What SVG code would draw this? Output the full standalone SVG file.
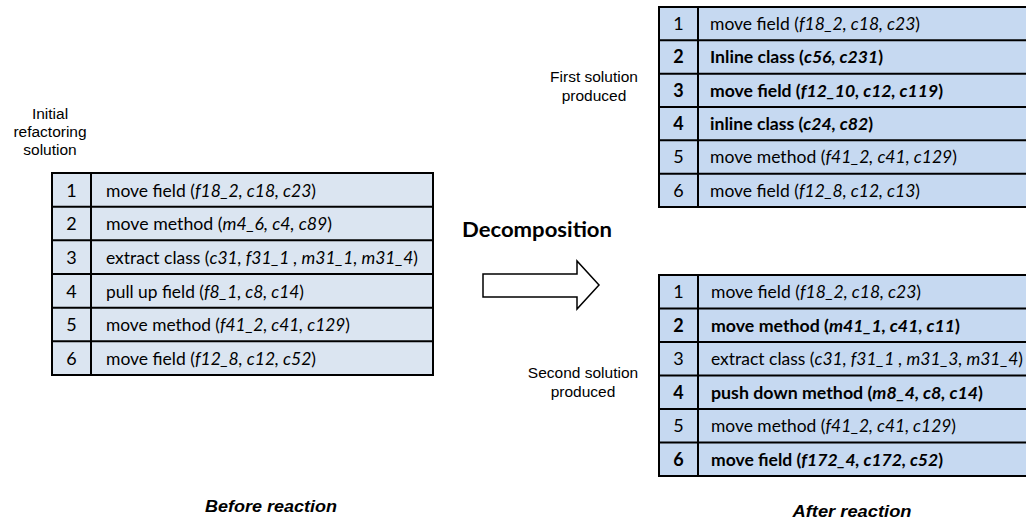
<svg xmlns="http://www.w3.org/2000/svg" width="1026" height="520" viewBox="0 0 1026 520">
<style>
.lbl{font-family:"Liberation Sans",Arial,sans-serif;font-size:15.5px;fill:#000;text-anchor:middle}
.cap{font-family:"Liberation Sans",Arial,sans-serif;font-size:17px;font-weight:bold;font-style:italic;fill:#000;text-anchor:middle}
.t{font-family:Lato,"Open Sans",sans-serif;font-size:17.5px;fill:#000}
.n{font-family:Lato,"Open Sans",sans-serif;font-size:18px;fill:#000;text-anchor:middle}
.b{font-weight:bold}
.i{font-style:italic}
.grid{stroke:#000;stroke-width:2;fill:none}
.fa{fill:#dbe5f1}
.fb{fill:#c6d9f1}
.dec{font-family:Lato,"Open Sans",sans-serif;font-size:20px;font-weight:bold;fill:#000;text-anchor:middle}
</style>

<g id="label-initial">
<text class="lbl" x="50" y="119">Initial</text>
<text class="lbl" x="50" y="137">refactoring</text>
<text class="lbl" x="50" y="155">solution</text>
</g>
<g id="label-first">
<text class="lbl" x="594" y="82">First solution</text>
<text class="lbl" x="594" y="101">produced</text>
</g>
<g id="label-second">
<text class="lbl" x="583" y="378">Second solution</text>
<text class="lbl" x="583" y="397">produced</text>
</g>
<g id="label-decomposition">
<text class="dec" x="537" y="237" textLength="150" lengthAdjust="spacingAndGlyphs">Decomposition</text>
</g>
<g id="label-before">
<text class="cap" x="271" y="512" textLength="132" lengthAdjust="spacingAndGlyphs">Before reaction</text>
</g>
<g id="label-after">
<text class="cap" x="852" y="517" textLength="119" lengthAdjust="spacingAndGlyphs">After reaction</text>
</g>

<g id="table-initial">
<rect class="fa" x="52" y="173" width="381" height="202"/>
<g class="grid">
<rect x="52" y="173" width="381" height="202"/>
<line x1="91" y1="173" x2="91" y2="375"/>
<line x1="52" y1="206.7" x2="433" y2="206.7"/>
<line x1="52" y1="240.3" x2="433" y2="240.3"/>
<line x1="52" y1="274" x2="433" y2="274"/>
<line x1="52" y1="307.7" x2="433" y2="307.7"/>
<line x1="52" y1="341.3" x2="433" y2="341.3"/>
</g>
<text class="n" x="71.5" y="196.5">1</text>
<text class="n" x="71.5" y="230.2">2</text>
<text class="n" x="71.5" y="263.8">3</text>
<text class="n" x="71.5" y="297.5">4</text>
<text class="n" x="71.5" y="331.2">5</text>
<text class="n" x="71.5" y="364.8">6</text>
<text class="t" x="106" y="196.5" textLength="210" lengthAdjust="spacingAndGlyphs">move field (<tspan class="i">f18_2, c18, c23</tspan>)</text>
<text class="t" x="106" y="230.2" textLength="226" lengthAdjust="spacingAndGlyphs">move method (<tspan class="i">m4_6, c4, c89</tspan>)</text>
<text class="t" x="106" y="263.8" textLength="312" lengthAdjust="spacingAndGlyphs">extract class (<tspan class="i">c31, f31_1 , m31_1, m31_4</tspan>)</text>
<text class="t" x="106" y="297.5" textLength="198" lengthAdjust="spacingAndGlyphs">pull up field (<tspan class="i">f8_1, c8, c14</tspan>)</text>
<text class="t" x="106" y="331.2" textLength="244" lengthAdjust="spacingAndGlyphs">move method (<tspan class="i">f41_2, c41, c129</tspan>)</text>
<text class="t" x="106" y="364.8" textLength="210" lengthAdjust="spacingAndGlyphs">move field (<tspan class="i">f12_8, c12, c52</tspan>)</text>
</g>

<g id="table-first">
<rect class="fb" x="659" y="7" width="380" height="200"/>
<g class="grid">
<rect x="659" y="7" width="380" height="200"/>
<line x1="698" y1="7" x2="698" y2="207"/>
<line x1="659" y1="40.3" x2="1039" y2="40.3"/>
<line x1="659" y1="73.7" x2="1039" y2="73.7"/>
<line x1="659" y1="107" x2="1039" y2="107"/>
<line x1="659" y1="140.3" x2="1039" y2="140.3"/>
<line x1="659" y1="173.7" x2="1039" y2="173.7"/>
</g>
<text class="n" x="678.5" y="30">1</text>
<text class="n b" x="678.5" y="63.3">2</text>
<text class="n b" x="678.5" y="96.7">3</text>
<text class="n b" x="678.5" y="130">4</text>
<text class="n" x="678.5" y="163.3">5</text>
<text class="n" x="678.5" y="196.7">6</text>
<text class="t" x="710" y="30" textLength="210" lengthAdjust="spacingAndGlyphs">move field (<tspan class="i">f18_2, c18, c23</tspan>)</text>
<text class="t b" x="710" y="63.3" textLength="173" lengthAdjust="spacingAndGlyphs">Inline class (<tspan class="i">c56, c231</tspan>)</text>
<text class="t b" x="710" y="96.7" textLength="233" lengthAdjust="spacingAndGlyphs">move field (<tspan class="i">f12_10, c12, c119</tspan>)</text>
<text class="t b" x="710" y="130" textLength="163" lengthAdjust="spacingAndGlyphs">inline class (<tspan class="i">c24, c82</tspan>)</text>
<text class="t" x="710" y="163.3" textLength="247" lengthAdjust="spacingAndGlyphs">move method (<tspan class="i">f41_2, c41, c129</tspan>)</text>
<text class="t" x="710" y="196.7" textLength="210" lengthAdjust="spacingAndGlyphs">move field (<tspan class="i">f12_8, c12, c13</tspan>)</text>
</g>

<g id="table-second">
<rect class="fb" x="659" y="275" width="380" height="201"/>
<g class="grid">
<rect x="659" y="275" width="380" height="201"/>
<line x1="698" y1="275" x2="698" y2="476"/>
<line x1="659" y1="308.5" x2="1039" y2="308.5"/>
<line x1="659" y1="342" x2="1039" y2="342"/>
<line x1="659" y1="375.5" x2="1039" y2="375.5"/>
<line x1="659" y1="409" x2="1039" y2="409"/>
<line x1="659" y1="442.5" x2="1039" y2="442.5"/>
</g>
<text class="n" x="678.5" y="298.2">1</text>
<text class="n b" x="678.5" y="331.7">2</text>
<text class="n" x="678.5" y="365.2">3</text>
<text class="n b" x="678.5" y="398.7">4</text>
<text class="n" x="678.5" y="432.2">5</text>
<text class="n b" x="678.5" y="465.7">6</text>
<text class="t" x="711" y="298.2" textLength="210" lengthAdjust="spacingAndGlyphs">move field (<tspan class="i">f18_2, c18, c23</tspan>)</text>
<text class="t b" x="711" y="331.7" textLength="249" lengthAdjust="spacingAndGlyphs">move method (<tspan class="i">m41_1, c41, c11</tspan>)</text>
<text class="t" x="711" y="365.2" textLength="312" lengthAdjust="spacingAndGlyphs">extract class (<tspan class="i">c31, f31_1 , m31_3, m31_4</tspan>)</text>
<text class="t b" x="711" y="398.7" textLength="272" lengthAdjust="spacingAndGlyphs">push down method (<tspan class="i">m8_4, c8, c14</tspan>)</text>
<text class="t" x="711" y="432.2" textLength="245" lengthAdjust="spacingAndGlyphs">move method (<tspan class="i">f41_2, c41, c129</tspan>)</text>
<text class="t b" x="711" y="465.7" textLength="232" lengthAdjust="spacingAndGlyphs">move field (<tspan class="i">f172_4, c172, c52</tspan>)</text>
</g>

<g id="connectors">
<polygon points="483,274 577,274 577,261 599,285 577,309 577,297 483,297" fill="#fff" stroke="#000" stroke-width="1.5" stroke-linejoin="miter"/>
</g>
</svg>
